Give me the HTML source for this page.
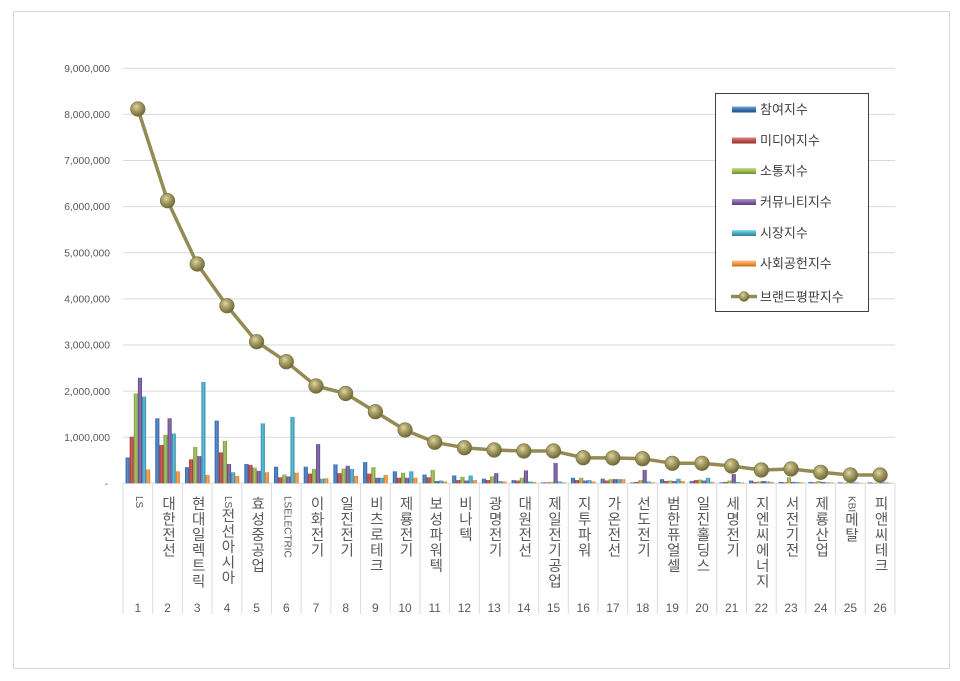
<!DOCTYPE html>
<html>
<head>
<meta charset="utf-8">
<style>
html,body{margin:0;padding:0;background:#fff;}
body{width:960px;height:681px;position:relative;overflow:hidden;}
svg{position:absolute;left:0;top:0;}
.a{fill:url(#gA)}.r{fill:url(#gR)}.g{fill:url(#gG)}.p{fill:url(#gP)}.t{fill:url(#gT)}.o{fill:url(#gO)}
.lb{position:absolute;top:496px;width:16px;writing-mode:vertical-rl;text-orientation:mixed;font-size:14.5px;line-height:16px;font-family:"Liberation Sans","Noto Sans CJK KR",sans-serif;color:#595959;letter-spacing:1px;white-space:nowrap;}
.lb span{font-size:10px;letter-spacing:0;}
</style>
</head>
<body>
<svg width="960" height="681" viewBox="0 0 960 681" xmlns="http://www.w3.org/2000/svg">
<defs>
<linearGradient id="gA" x1="0" x2="1" y1="0" y2="0"><stop offset="0" stop-color="#2f5d9a"/><stop offset="0.5" stop-color="#5c8fd0"/><stop offset="1" stop-color="#2f5d9a"/></linearGradient>
<linearGradient id="gR" x1="0" x2="1" y1="0" y2="0"><stop offset="0" stop-color="#9a3431"/><stop offset="0.5" stop-color="#d2605c"/><stop offset="1" stop-color="#9a3431"/></linearGradient>
<linearGradient id="gG" x1="0" x2="1" y1="0" y2="0"><stop offset="0" stop-color="#77953c"/><stop offset="0.5" stop-color="#a9c96a"/><stop offset="1" stop-color="#77953c"/></linearGradient>
<linearGradient id="gP" x1="0" x2="1" y1="0" y2="0"><stop offset="0" stop-color="#5b4580"/><stop offset="0.5" stop-color="#8f74b3"/><stop offset="1" stop-color="#5b4580"/></linearGradient>
<linearGradient id="gT" x1="0" x2="1" y1="0" y2="0"><stop offset="0" stop-color="#2f8aa3"/><stop offset="0.5" stop-color="#5fc0da"/><stop offset="1" stop-color="#2f8aa3"/></linearGradient>
<linearGradient id="gO" x1="0" x2="1" y1="0" y2="0"><stop offset="0" stop-color="#d2782b"/><stop offset="0.5" stop-color="#f9a860"/><stop offset="1" stop-color="#d2782b"/></linearGradient>
<linearGradient id="sA" x1="0" x2="0" y1="0" y2="1"><stop offset="0" stop-color="#7aa6dc"/><stop offset="0.5" stop-color="#3d6fb0"/><stop offset="1" stop-color="#24508a"/></linearGradient>
<linearGradient id="sR" x1="0" x2="0" y1="0" y2="1"><stop offset="0" stop-color="#e08480"/><stop offset="0.5" stop-color="#c0504d"/><stop offset="1" stop-color="#8c2e2b"/></linearGradient>
<linearGradient id="sG" x1="0" x2="0" y1="0" y2="1"><stop offset="0" stop-color="#c4dc8e"/><stop offset="0.5" stop-color="#9bbb59"/><stop offset="1" stop-color="#6a8a34"/></linearGradient>
<linearGradient id="sP" x1="0" x2="0" y1="0" y2="1"><stop offset="0" stop-color="#ab93cc"/><stop offset="0.5" stop-color="#8064a2"/><stop offset="1" stop-color="#543e78"/></linearGradient>
<linearGradient id="sT" x1="0" x2="0" y1="0" y2="1"><stop offset="0" stop-color="#8fdcef"/><stop offset="0.5" stop-color="#4bacc6"/><stop offset="1" stop-color="#2a7f98"/></linearGradient>
<linearGradient id="sO" x1="0" x2="0" y1="0" y2="1"><stop offset="0" stop-color="#fbc28c"/><stop offset="0.5" stop-color="#f79646"/><stop offset="1" stop-color="#c46a22"/></linearGradient>
<radialGradient id="mk" cx="0.4" cy="0.35" r="0.65"><stop offset="0" stop-color="#ddd6a6"/><stop offset="0.45" stop-color="#a89f66"/><stop offset="1" stop-color="#6f6738"/></radialGradient>
</defs>

<!-- outer frame -->
<rect x="13.5" y="11.5" width="936" height="657" fill="#fff" stroke="#d9d9d9" stroke-width="1"/>

<!-- gridlines -->
<g stroke="#d9d9d9" stroke-width="1">
<line x1="123" x2="895" y1="68.3" y2="68.3"/>
<line x1="123" x2="895" y1="114.4" y2="114.4"/>
<line x1="123" x2="895" y1="160.5" y2="160.5"/>
<line x1="123" x2="895" y1="206.6" y2="206.6"/>
<line x1="123" x2="895" y1="252.8" y2="252.8"/>
<line x1="123" x2="895" y1="298.9" y2="298.9"/>
<line x1="123" x2="895" y1="345.0" y2="345.0"/>
<line x1="123" x2="895" y1="391.1" y2="391.1"/>
<line x1="123" x2="895" y1="437.2" y2="437.2"/>
<line x1="123" x2="895" y1="483.3" y2="483.3"/>
</g>

<!-- category dividers -->
<g stroke="#dcdcdc" stroke-width="1">
<line x1="123" x2="123" y1="483" y2="614"/>
<line x1="152.69" x2="152.69" y1="483" y2="614"/>
<line x1="182.38" x2="182.38" y1="483" y2="614"/>
<line x1="212.07" x2="212.07" y1="483" y2="614"/>
<line x1="241.76" x2="241.76" y1="483" y2="614"/>
<line x1="271.45" x2="271.45" y1="483" y2="614"/>
<line x1="301.14" x2="301.14" y1="483" y2="614"/>
<line x1="330.83" x2="330.83" y1="483" y2="614"/>
<line x1="360.52" x2="360.52" y1="483" y2="614"/>
<line x1="390.21" x2="390.21" y1="483" y2="614"/>
<line x1="419.9" x2="419.9" y1="483" y2="614"/>
<line x1="449.59" x2="449.59" y1="483" y2="614"/>
<line x1="479.28" x2="479.28" y1="483" y2="614"/>
<line x1="508.97" x2="508.97" y1="483" y2="614"/>
<line x1="538.66" x2="538.66" y1="483" y2="614"/>
<line x1="568.35" x2="568.35" y1="483" y2="614"/>
<line x1="598.04" x2="598.04" y1="483" y2="614"/>
<line x1="627.73" x2="627.73" y1="483" y2="614"/>
<line x1="657.42" x2="657.42" y1="483" y2="614"/>
<line x1="687.11" x2="687.11" y1="483" y2="614"/>
<line x1="716.8" x2="716.8" y1="483" y2="614"/>
<line x1="746.49" x2="746.49" y1="483" y2="614"/>
<line x1="776.18" x2="776.18" y1="483" y2="614"/>
<line x1="805.87" x2="805.87" y1="483" y2="614"/>
<line x1="835.56" x2="835.56" y1="483" y2="614"/>
<line x1="865.25" x2="865.25" y1="483" y2="614"/>
<line x1="894.94" x2="894.94" y1="483" y2="614"/>
</g>

<!-- y-axis labels -->
<g font-family="Liberation Sans, sans-serif" font-size="10.3" fill="#595959" text-anchor="end">
<text x="110" y="72">9,000,000</text>
<text x="110" y="118">8,000,000</text>
<text x="110" y="164">7,000,000</text>
<text x="110" y="210">6,000,000</text>
<text x="110" y="256.5">5,000,000</text>
<text x="110" y="302.5">4,000,000</text>
<text x="110" y="348.5">3,000,000</text>
<text x="110" y="395">2,000,000</text>
<text x="110" y="441">1,000,000</text>
<text x="108" y="487">-</text>
</g>

<!-- bars -->
<g>
<g transform="translate(123 483.3) scale(1 -46.11)"><rect class="a" x="2.6" width="4.1" height=".56"/><rect class="r" x="6.7" width="4.1" height="1.01"/><rect class="g" x="10.8" width="4.1" height="1.95"/><rect class="p" x="14.9" width="4.1" height="2.29"/><rect class="t" x="19" width="4.1" height="1.88"/><rect class="o" x="23.1" width="4.1" height=".30"/></g>
<g transform="translate(152.69 483.3) scale(1 -46.11)"><rect class="a" x="2.6" width="4.1" height="1.41"/><rect class="r" x="6.7" width="4.1" height=".83"/><rect class="g" x="10.8" width="4.1" height="1.05"/><rect class="p" x="14.9" width="4.1" height="1.41"/><rect class="t" x="19" width="4.1" height="1.08"/><rect class="o" x="23.1" width="4.1" height=".26"/></g>
<g transform="translate(182.38 483.3) scale(1 -46.11)"><rect class="a" x="2.6" width="4.1" height=".35"/><rect class="r" x="6.7" width="4.1" height=".52"/><rect class="g" x="10.8" width="4.1" height=".79"/><rect class="p" x="14.9" width="4.1" height=".59"/><rect class="t" x="19" width="4.1" height="2.2"/><rect class="o" x="23.1" width="4.1" height=".18"/></g>
<g transform="translate(212.07 483.3) scale(1 -46.11)"><rect class="a" x="2.6" width="4.1" height="1.36"/><rect class="r" x="6.7" width="4.1" height=".67"/><rect class="g" x="10.8" width="4.1" height=".92"/><rect class="p" x="14.9" width="4.1" height=".42"/><rect class="t" x="19" width="4.1" height=".24"/><rect class="o" x="23.1" width="4.1" height=".16"/></g>
<g transform="translate(241.76 483.3) scale(1 -46.11)"><rect class="a" x="2.6" width="4.1" height=".42"/><rect class="r" x="6.7" width="4.1" height=".40"/><rect class="g" x="10.8" width="4.1" height=".34"/><rect class="p" x="14.9" width="4.1" height=".27"/><rect class="t" x="19" width="4.1" height="1.30"/><rect class="o" x="23.1" width="4.1" height=".24"/></g>
<g transform="translate(271.45 483.3) scale(1 -46.11)"><rect class="a" x="2.6" width="4.1" height=".36"/><rect class="r" x="6.7" width="4.1" height=".13"/><rect class="g" x="10.8" width="4.1" height=".19"/><rect class="p" x="14.9" width="4.1" height=".15"/><rect class="t" x="19" width="4.1" height="1.44"/><rect class="o" x="23.1" width="4.1" height=".23"/></g>
<g transform="translate(301.14 483.3) scale(1 -46.11)"><rect class="a" x="2.6" width="4.1" height=".36"/><rect class="r" x="6.7" width="4.1" height=".21"/><rect class="g" x="10.8" width="4.1" height=".31"/><rect class="p" x="14.9" width="4.1" height=".85"/><rect class="t" x="19" width="4.1" height=".10"/><rect class="o" x="23.1" width="4.1" height=".11"/></g>
<g transform="translate(330.83 483.3) scale(1 -46.11)"><rect class="a" x="2.6" width="4.1" height=".41"/><rect class="r" x="6.7" width="4.1" height=".22"/><rect class="g" x="10.8" width="4.1" height=".32"/><rect class="p" x="14.9" width="4.1" height=".38"/><rect class="t" x="19" width="4.1" height=".31"/><rect class="o" x="23.1" width="4.1" height=".16"/></g>
<g transform="translate(360.52 483.3) scale(1 -46.11)"><rect class="a" x="2.6" width="4.1" height=".46"/><rect class="r" x="6.7" width="4.1" height=".21"/><rect class="g" x="10.8" width="4.1" height=".35"/><rect class="p" x="14.9" width="4.1" height=".12"/><rect class="t" x="19" width="4.1" height=".12"/><rect class="o" x="23.1" width="4.1" height=".18"/></g>
<g transform="translate(390.21 483.3) scale(1 -46.11)"><rect class="a" x="2.6" width="4.1" height=".26"/><rect class="r" x="6.7" width="4.1" height=".12"/><rect class="g" x="10.8" width="4.1" height=".23"/><rect class="p" x="14.9" width="4.1" height=".12"/><rect class="t" x="19" width="4.1" height=".26"/><rect class="o" x="23.1" width="4.1" height=".12"/></g>
<g transform="translate(419.9 483.3) scale(1 -46.11)"><rect class="a" x="2.6" width="4.1" height=".19"/><rect class="r" x="6.7" width="4.1" height=".13"/><rect class="g" x="10.8" width="4.1" height=".29"/><rect class="p" x="14.9" width="4.1" height=".05"/><rect class="t" x="19" width="4.1" height=".06"/><rect class="o" x="23.1" width="4.1" height=".04"/></g>
<g transform="translate(449.59 483.3) scale(1 -46.11)"><rect class="a" x="2.6" width="4.1" height=".17"/><rect class="r" x="6.7" width="4.1" height=".07"/><rect class="g" x="10.8" width="4.1" height=".14"/><rect class="p" x="14.9" width="4.1" height=".06"/><rect class="t" x="19" width="4.1" height=".17"/><rect class="o" x="23.1" width="4.1" height=".07"/></g>
<g transform="translate(479.28 483.3) scale(1 -46.11)"><rect class="a" x="2.6" width="4.1" height=".10"/><rect class="r" x="6.7" width="4.1" height=".07"/><rect class="g" x="10.8" width="4.1" height=".15"/><rect class="p" x="14.9" width="4.1" height=".22"/><rect class="t" x="19" width="4.1" height=".05"/><rect class="o" x="23.1" width="4.1" height=".04"/></g>
<g transform="translate(508.97 483.3) scale(1 -46.11)"><rect class="a" x="2.6" width="4.1" height=".07"/><rect class="r" x="6.7" width="4.1" height=".06"/><rect class="g" x="10.8" width="4.1" height=".12"/><rect class="p" x="14.9" width="4.1" height=".28"/><rect class="t" x="19" width="4.1" height=".04"/><rect class="o" x="23.1" width="4.1" height=".03"/></g>
<g transform="translate(538.66 483.3) scale(1 -46.11)"><rect class="a" x="2.6" width="4.1" height=".02"/><rect class="r" x="6.7" width="4.1" height=".02"/><rect class="g" x="10.8" width="4.1" height=".03"/><rect class="p" x="14.9" width="4.1" height=".44"/><rect class="t" x="19" width="4.1" height=".04"/><rect class="o" x="23.1" width="4.1" height=".02"/></g>
<g transform="translate(568.35 483.3) scale(1 -46.11)"><rect class="a" x="2.6" width="4.1" height=".12"/><rect class="r" x="6.7" width="4.1" height=".07"/><rect class="g" x="10.8" width="4.1" height=".12"/><rect class="p" x="14.9" width="4.1" height=".06"/><rect class="t" x="19" width="4.1" height=".07"/><rect class="o" x="23.1" width="4.1" height=".04"/></g>
<g transform="translate(598.04 483.3) scale(1 -46.11)"><rect class="a" x="2.6" width="4.1" height=".10"/><rect class="r" x="6.7" width="4.1" height=".06"/><rect class="g" x="10.8" width="4.1" height=".09"/><rect class="p" x="14.9" width="4.1" height=".09"/><rect class="t" x="19" width="4.1" height=".09"/><rect class="o" x="23.1" width="4.1" height=".09"/></g>
<g transform="translate(627.73 483.3) scale(1 -46.11)"><rect class="a" x="2.6" width="4.1" height=".02"/><rect class="r" x="6.7" width="4.1" height=".03"/><rect class="g" x="10.8" width="4.1" height=".07"/><rect class="p" x="14.9" width="4.1" height=".29"/><rect class="t" x="19" width="4.1" height=".04"/><rect class="o" x="23.1" width="4.1" height=".02"/></g>
<g transform="translate(657.42 483.3) scale(1 -46.11)"><rect class="a" x="2.6" width="4.1" height=".09"/><rect class="r" x="6.7" width="4.1" height=".05"/><rect class="g" x="10.8" width="4.1" height=".06"/><rect class="p" x="14.9" width="4.1" height=".05"/><rect class="t" x="19" width="4.1" height=".10"/><rect class="o" x="23.1" width="4.1" height=".05"/></g>
<g transform="translate(687.11 483.3) scale(1 -46.11)"><rect class="a" x="2.6" width="4.1" height=".05"/><rect class="r" x="6.7" width="4.1" height=".07"/><rect class="g" x="10.8" width="4.1" height=".08"/><rect class="p" x="14.9" width="4.1" height=".06"/><rect class="t" x="19" width="4.1" height=".12"/><rect class="o" x="23.1" width="4.1" height=".03"/></g>
<g transform="translate(716.8 483.3) scale(1 -46.11)"><rect class="a" x="2.6" width="4.1" height=".02"/><rect class="r" x="6.7" width="4.1" height=".03"/><rect class="g" x="10.8" width="4.1" height=".06"/><rect class="p" x="14.9" width="4.1" height=".20"/><rect class="t" x="19" width="4.1" height=".03"/><rect class="o" x="23.1" width="4.1" height=".02"/></g>
<g transform="translate(746.49 483.3) scale(1 -46.11)"><rect class="a" x="2.6" width="4.1" height=".06"/><rect class="r" x="6.7" width="4.1" height=".03"/><rect class="g" x="10.8" width="4.1" height=".04"/><rect class="p" x="14.9" width="4.1" height=".05"/><rect class="t" x="19" width="4.1" height=".04"/><rect class="o" x="23.1" width="4.1" height=".03"/></g>
<g transform="translate(776.18 483.3) scale(1 -46.11)"><rect class="a" x="2.6" width="4.1" height=".03"/><rect class="r" x="6.7" width="4.1" height=".02"/><rect class="g" x="10.8" width="4.1" height=".13"/><rect class="p" x="14.9" width="4.1" height=".03"/><rect class="t" x="19" width="4.1" height=".03"/><rect class="o" x="23.1" width="4.1" height=".02"/></g>
<g transform="translate(805.87 483.3) scale(1 -46.11)"><rect class="a" x="2.6" width="4.1" height=".03"/><rect class="r" x="6.7" width="4.1" height=".02"/><rect class="g" x="10.8" width="4.1" height=".05"/><rect class="p" x="14.9" width="4.1" height=".03"/><rect class="t" x="19" width="4.1" height=".02"/><rect class="o" x="23.1" width="4.1" height=".02"/></g>
<g transform="translate(835.56 483.3) scale(1 -46.11)"><rect class="a" x="2.6" width="4.1" height=".02"/><rect class="r" x="6.7" width="4.1" height=".01"/><rect class="g" x="10.8" width="4.1" height=".03"/><rect class="p" x="14.9" width="4.1" height=".02"/><rect class="t" x="19" width="4.1" height=".02"/><rect class="o" x="23.1" width="4.1" height=".01"/></g>
<g transform="translate(865.25 483.3) scale(1 -46.11)"><rect class="a" x="2.6" width="4.1" height=".02"/><rect class="r" x="6.7" width="4.1" height=".01"/><rect class="g" x="10.8" width="4.1" height=".02"/><rect class="p" x="14.9" width="4.1" height=".02"/><rect class="t" x="19" width="4.1" height=".02"/><rect class="o" x="23.1" width="4.1" height=".01"/></g>
</g>

<!-- brand reputation line -->
<polyline fill="none" stroke="#948a54" stroke-width="3.5" stroke-linejoin="round" points="137.85,109 167.54,200.7 197.23,264 226.92,305.7 256.61,341.7 286.3,361.7 315.99,386 345.68,393.5 375.37,411.7 405.06,430 434.75,442.3 464.44,447.7 494.13,450 523.82,451 553.51,451 583.2,457.7 612.89,458 642.58,458.7 672.27,463.3 701.96,463.3 731.65,466 761.34,470 791.03,469 820.72,472.3 850.41,475 880.1,475"/>
<g fill="url(#mk)" stroke="#7a7142" stroke-width="0.6">
<circle cx="137.85" cy="109" r="7.3"/>
<circle cx="167.54" cy="200.7" r="7.3"/>
<circle cx="197.23" cy="264" r="7.3"/>
<circle cx="226.92" cy="305.7" r="7.3"/>
<circle cx="256.61" cy="341.7" r="7.3"/>
<circle cx="286.3" cy="361.7" r="7.3"/>
<circle cx="315.99" cy="386" r="7.3"/>
<circle cx="345.68" cy="393.5" r="7.3"/>
<circle cx="375.37" cy="411.7" r="7.3"/>
<circle cx="405.06" cy="430" r="7.3"/>
<circle cx="434.75" cy="442.3" r="7.3"/>
<circle cx="464.44" cy="447.7" r="7.3"/>
<circle cx="494.13" cy="450" r="7.3"/>
<circle cx="523.82" cy="451" r="7.3"/>
<circle cx="553.51" cy="451" r="7.3"/>
<circle cx="583.2" cy="457.7" r="7.3"/>
<circle cx="612.89" cy="458" r="7.3"/>
<circle cx="642.58" cy="458.7" r="7.3"/>
<circle cx="672.27" cy="463.3" r="7.3"/>
<circle cx="701.96" cy="463.3" r="7.3"/>
<circle cx="731.65" cy="466" r="7.3"/>
<circle cx="761.34" cy="470" r="7.3"/>
<circle cx="791.03" cy="469" r="7.3"/>
<circle cx="820.72" cy="472.3" r="7.3"/>
<circle cx="850.41" cy="475" r="7.3"/>
<circle cx="880.1" cy="475" r="7.3"/>
</g>

<!-- category numbers -->
<g font-family="Liberation Sans, sans-serif" font-size="12" fill="#595959" text-anchor="middle">
<text x="137.85" y="612">1</text>
<text x="167.54" y="612">2</text>
<text x="197.23" y="612">3</text>
<text x="226.92" y="612">4</text>
<text x="256.61" y="612">5</text>
<text x="286.3" y="612">6</text>
<text x="315.99" y="612">7</text>
<text x="345.68" y="612">8</text>
<text x="375.37" y="612">9</text>
<text x="405.06" y="612">10</text>
<text x="434.75" y="612">11</text>
<text x="464.44" y="612">12</text>
<text x="494.13" y="612">13</text>
<text x="523.82" y="612">14</text>
<text x="553.51" y="612">15</text>
<text x="583.2" y="612">16</text>
<text x="612.89" y="612">17</text>
<text x="642.58" y="612">18</text>
<text x="672.27" y="612">19</text>
<text x="701.96" y="612">20</text>
<text x="731.65" y="612">21</text>
<text x="761.34" y="612">22</text>
<text x="791.03" y="612">23</text>
<text x="820.72" y="612">24</text>
<text x="850.41" y="612">25</text>
<text x="880.1" y="612">26</text>
</g>

<!-- legend -->
<rect x="715.5" y="93.5" width="153" height="218" fill="#fff" stroke="#404040" stroke-width="1"/>
<rect x="732" y="106.5" width="24" height="6" fill="url(#sA)"/>
<rect x="732" y="137.5" width="24" height="6" fill="url(#sR)"/>
<rect x="732" y="168" width="24" height="6" fill="url(#sG)"/>
<rect x="732" y="199" width="24" height="6" fill="url(#sP)"/>
<rect x="732" y="230" width="24" height="6" fill="url(#sT)"/>
<rect x="732" y="260.5" width="24" height="6" fill="url(#sO)"/>
<line x1="731" x2="757" y1="296.5" y2="296.5" stroke="#948a54" stroke-width="3.5"/>
<circle cx="744" cy="296.5" r="5" fill="url(#mk)" stroke="#7a7142" stroke-width="0.5"/>
<g font-family="Liberation Sans, Noto Sans CJK KR, sans-serif" font-size="13" fill="#404040">
<text x="760" y="114">참여지수</text>
<text x="760" y="145">미디어지수</text>
<text x="760" y="175.5">소통지수</text>
<text x="760" y="206.5">커뮤니티지수</text>
<text x="760" y="237.5">시장지수</text>
<text x="760" y="268">사회공헌지수</text>
<text x="760" y="301.5">브랜드평판지수</text>
</g>
</svg>

<div class="lb" style="left:129.85px"><span>LS</span></div>
<div class="lb" style="left:159.54px">대한전선</div>
<div class="lb" style="left:189.23px">현대일렉트릭</div>
<div class="lb" style="left:218.92px"><span>LS</span>전선아시아</div>
<div class="lb" style="left:248.61px">효성중공업</div>
<div class="lb" style="left:278.3px"><span>LSELECTRIC</span></div>
<div class="lb" style="left:307.99px">이화전기</div>
<div class="lb" style="left:337.68px">일진전기</div>
<div class="lb" style="left:367.37px">비츠로테크</div>
<div class="lb" style="left:397.06px">제룡전기</div>
<div class="lb" style="left:426.75px">보성파워텍</div>
<div class="lb" style="left:456.44px">비나텍</div>
<div class="lb" style="left:486.13px">광명전기</div>
<div class="lb" style="left:515.82px">대원전선</div>
<div class="lb" style="left:545.51px">제일전기공업</div>
<div class="lb" style="left:575.2px">지투파워</div>
<div class="lb" style="left:604.89px">가온전선</div>
<div class="lb" style="left:634.58px">선도전기</div>
<div class="lb" style="left:664.27px">범한퓨얼셀</div>
<div class="lb" style="left:693.96px">일진홀딩스</div>
<div class="lb" style="left:723.65px">세명전기</div>
<div class="lb" style="left:753.34px">지엔씨에너지</div>
<div class="lb" style="left:783.03px">서전기전</div>
<div class="lb" style="left:812.72px">제룡산업</div>
<div class="lb" style="left:842.41px"><span>KBI</span>메탈</div>
<div class="lb" style="left:872.1px">피앤씨테크</div>
</body>
</html>
